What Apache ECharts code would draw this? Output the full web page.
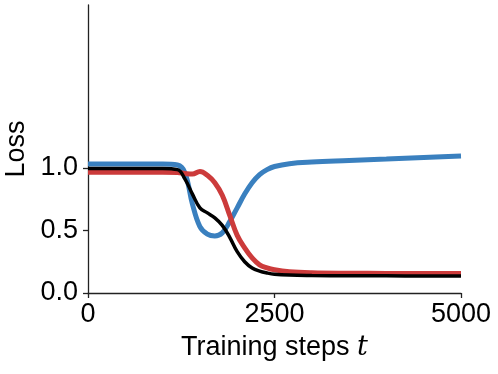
<!DOCTYPE html>
<html>
<head>
<meta charset="utf-8">
<script src="https://cdn.jsdelivr.net/npm/echarts@6/dist/echarts.min.js"></script>
<style>
  html, body { margin: 0; padding: 0; background: #fff; }
  #chart { width: 498px; height: 374px; }
</style>
</head>
<body>
<div id="chart"></div>
<script>
// training steps (x) and the three loss curves
var steps = [0, 500, 1000, 1200, 1300, 1400, 1500, 1600, 1700, 1800, 1900, 2000,
             2100, 2200, 2300, 2400, 2500, 2700, 3000, 3500, 4000, 4500, 5000];
var blueLoss = [1.03, 1.03, 1.03, 1.022, 0.96, 0.71, 0.53, 0.47, 0.455, 0.48, 0.57, 0.68,
                0.79, 0.88, 0.945, 0.985, 1.01, 1.033, 1.046, 1.058, 1.07, 1.083, 1.095];
var redLoss = [0.965, 0.965, 0.965, 0.963, 0.955, 0.95, 0.97, 0.94, 0.88, 0.78, 0.62, 0.46,
               0.36, 0.28, 0.225, 0.2, 0.185, 0.17, 0.162, 0.158, 0.156, 0.155, 0.155];
var blackLoss = [0.995, 0.995, 0.995, 0.985, 0.91, 0.79, 0.68, 0.64, 0.60, 0.54, 0.445, 0.33,
                 0.25, 0.2, 0.175, 0.16, 0.15, 0.143, 0.14, 0.138, 0.137, 0.136, 0.135];
var xTicks = [0, 2500, 5000];
var yTicks = [0, 0.5, 1.0];

function pairs(ys) {
    return steps.map(function (s, i) { return [s, ys[i]]; });
}

var chart = echarts.init(document.getElementById('chart'));
var axisColor = '#222';
var font = "'Liberation Sans', Arial, sans-serif";

chart.setOption({
    animation: false,
    grid: { left: 88, right: 37, top: 5, bottom: 81, outerBoundsMode: 'none' },
    xAxis: {
        type: 'value', min: 0, max: 5000, interval: 2500,
        name: '{a|Training steps }{b|t}',
        nameLocation: 'middle', nameGap: 41,
        nameTextStyle: {
            rich: {
                a: { fontSize: 27, fontFamily: font, color: '#000' },
                b: { fontSize: 27, fontFamily: "'DejaVu Serif', serif", fontStyle: 'italic', color: '#000' }
            }
        },
        axisLine: { lineStyle: { color: axisColor, width: 1.3 } },
        axisTick: { show: true, length: 5, lineStyle: { color: axisColor, width: 1.3 }, customValues: xTicks },
        axisLabel: {
            fontSize: 27, fontFamily: font, color: '#000', margin: 8, customValues: xTicks,
            formatter: function (v) { return String(v); }
        },
        splitLine: { show: false }
    },
    yAxis: {
        type: 'value', min: 0, max: 2.3,
        name: 'Loss', nameLocation: 'middle', nameGap: 58, nameRotate: 90,
        nameTextStyle: { fontSize: 27, fontFamily: font, color: '#000' },
        axisLine: { show: true, lineStyle: { color: axisColor, width: 1.3 } },
        axisTick: { show: true, length: 5, lineStyle: { color: axisColor, width: 1.3 }, customValues: yTicks },
        axisLabel: {
            fontSize: 27, fontFamily: font, color: '#000', margin: 10, customValues: yTicks,
            formatter: function (v) { return v.toFixed(1); }
        },
        splitLine: { show: false }
    },
    series: [
        { type: 'line', data: pairs(blueLoss), smooth: 0.4, showSymbol: false,
          lineStyle: { color: '#3a80bf', width: 5 } },
        { type: 'line', data: pairs(redLoss), smooth: 0.4, showSymbol: false,
          lineStyle: { color: '#cc3b3b', width: 5 } },
        { type: 'line', data: pairs(blackLoss), smooth: 0.4, showSymbol: false,
          lineStyle: { color: '#000', width: 3.5 } }
    ]
});
</script>
</body>
</html>
